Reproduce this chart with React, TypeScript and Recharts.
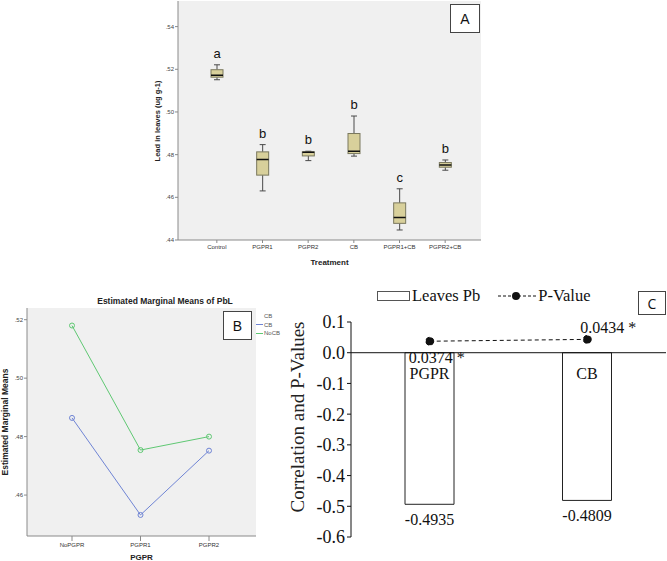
import React from 'react';
import {
  ComposedChart,
  LineChart,
  Bar,
  Line,
  XAxis,
  YAxis,
  CartesianGrid,
  LabelList,
  Legend,
  ReferenceLine,
} from 'recharts';

// Panel A: boxplots of lead in leaves by treatment
const treatments = ['Control', 'PGPR1', 'PGPR2', 'CB', 'PGPR1+CB', 'PGPR2+CB'];
const leafMin = [0.5151, 0.463, 0.4772, 0.4793, 0.4447, 0.4727];
const leafQ1 = [0.5163, 0.4704, 0.4794, 0.4805, 0.4478, 0.4741];
const leafMedian = [0.5172, 0.4777, 0.4811, 0.4816, 0.4506, 0.4752];
const leafQ3 = [0.5198, 0.4813, 0.4813, 0.4899, 0.4574, 0.4763];
const leafMax = [0.5221, 0.4847, 0.4816, 0.4981, 0.464, 0.4775];
const groupLetters = ['a', 'b', 'b', 'b', 'c', 'b'];
const leafTicks = [0.44, 0.46, 0.48, 0.5, 0.52, 0.54];

// Panel B: estimated marginal means
const pgprLevels = ['NoPGPR', 'PGPR1', 'PGPR2'];
const meansCB = [0.4864, 0.4532, 0.4752];
const meansNoCB = [0.518, 0.4754, 0.48];
const meanTicks = [0.46, 0.48, 0.5, 0.52];

// Panel C: correlation and p-values
const corrFactors = ['PGPR', 'CB'];
const corrLeavesPb = [-0.4935, -0.4809];
const pValues = [0.0374, 0.0434];
const corrTicks = [-0.6, -0.5, -0.4, -0.3, -0.2, -0.1, 0, 0.1];

const SANS = '"Liberation Sans", Arial, sans-serif';
const SERIF = '"Liberation Serif", "Times New Roman", serif';
const FRAME = '#8a8a8a';

const boxRows = treatments.map((name, i) => ({
  name,
  min: leafMin[i],
  q1: leafQ1[i],
  median: leafMedian[i],
  q3: leafQ3[i],
  max: leafMax[i],
  letter: groupLetters[i],
}));

const meanRows = pgprLevels.map((level, i) => ({ level, cb: meansCB[i], nocb: meansNoCB[i] }));

const corrRows = corrFactors.map((factor, i) => ({ factor, leaves: corrLeavesPb[i], p: pValues[i] }));

const dotFmt = (v: number) => v.toFixed(2).replace(/^0/, '');

function BoxShape(props: any) {
  const { x, y, width, height, payload } = props;
  const span = payload.max - payload.min;
  const py = (v: number) => y + ((payload.max - v) / span) * height;
  const cx = x + width / 2;
  const cap = 3;
  return (
    <g>
      <line x1={cx} x2={cx} y1={py(payload.max)} y2={py(payload.q3)} stroke="#4a4a4a" />
      <line x1={cx} x2={cx} y1={py(payload.q1)} y2={py(payload.min)} stroke="#4a4a4a" />
      <line x1={cx - cap} x2={cx + cap} y1={py(payload.max)} y2={py(payload.max)} stroke="#4a4a4a" />
      <line x1={cx - cap} x2={cx + cap} y1={py(payload.min)} y2={py(payload.min)} stroke="#4a4a4a" />
      <rect
        x={x}
        y={py(payload.q3)}
        width={width}
        height={Math.max(py(payload.q1) - py(payload.q3), 1)}
        fill="#d8d09b"
        stroke="#7a785e"
      />
      <line x1={x} x2={x + width} y1={py(payload.median)} y2={py(payload.median)} stroke="#111" strokeWidth={1.5} />
    </g>
  );
}

const box = (p: any) => p.viewBox && p.viewBox.width !== undefined ? p.viewBox : p;

function FactorLabel(props: any) {
  const { x, y, width, height } = box(props);
  const top = Math.min(y, y + height);
  return (
    <text x={x + width / 2} y={top + 26} textAnchor="middle" fontFamily={SERIF} fontSize={16} fill="#111">
      {props.value}
    </text>
  );
}

function CorrValueLabel(props: any) {
  const { x, y, width, height } = box(props);
  const bottom = Math.max(y, y + height);
  return (
    <text x={x + width / 2} y={bottom + 21} textAnchor="middle" fontFamily={SERIF} fontSize={16} fill="#111">
      {props.value.toFixed(4)}
    </text>
  );
}

function PValueLabel(props: any) {
  const vb = props.viewBox || props;
  const x = vb.x ?? props.x;
  const y = vb.y ?? props.y;
  const below = props.index === 0;
  return (
    <text
      x={x + (below ? -21 : -7)}
      y={y + (below ? 22 : -6)}
      textAnchor="start"
      fontFamily={SERIF}
      fontSize={16}
      fill="#111"
    >
      {props.value.toFixed(4)} *
    </text>
  );
}

function CBLegend(props: any) {
  const items = props.payload || [];
  return (
    <div style={{ fontFamily: SANS, fontSize: 6, color: '#555', lineHeight: '8.5px' }}>
      <div style={{ marginLeft: 8 }}>CB</div>
      {items.map((it: any) => (
        <div key={it.value} style={{ display: 'flex', alignItems: 'center' }}>
          <span style={{ width: 7, height: 1, background: it.color, marginRight: 1, display: 'inline-block' }} />
          {it.value}
        </div>
      ))}
    </div>
  );
}

function CorrLegend() {
  return (
    <div style={{ display: 'flex', alignItems: 'center', fontFamily: SERIF, fontSize: 16.5, color: '#111', whiteSpace: 'nowrap' }}>
      <span style={{ width: 33, height: 10, border: '1px solid #555', boxSizing: 'border-box', display: 'inline-block', background: '#fff' }} />
      <span style={{ marginLeft: 2 }}>Leaves Pb</span>
      <svg width={38} height={10} style={{ marginLeft: 18 }}>
        <line x1={0} x2={38} y1={5} y2={5} stroke="#111" strokeDasharray="3 2" />
        <circle cx={18} cy={5} r={4} fill="#111" />
      </svg>
      <span style={{ marginLeft: 2 }}>P-Value</span>
    </div>
  );
}

const tag = (text: string, left: number, top: number, w: number, h: number, font: string, size: number) => (
  <div
    style={{
      position: 'absolute',
      left,
      top,
      width: w,
      height: h,
      border: '1px solid #444',
      boxSizing: 'border-box',
      background: '#fff',
      fontFamily: font,
      fontSize: size,
      display: 'flex',
      alignItems: 'center',
      justifyContent: 'center',
      color: '#111',
    }}
  >
    {text}
  </div>
);

const vTitle = (text: string, cx: number, cy: number, style: React.CSSProperties) => (
  <div
    style={{
      position: 'absolute',
      left: cx,
      top: cy,
      transform: 'translate(-50%, -50%) rotate(-90deg)',
      whiteSpace: 'nowrap',
      ...style,
    }}
  >
    {text}
  </div>
);

export default function App() {
  return (
    <div style={{ position: 'absolute', left: 0, top: 0, width: 667, height: 561, background: '#fff', overflow: 'hidden' }}>
      {/* Panel A */}
      <div style={{ position: 'absolute', left: 100, top: 0 }}>
        <ComposedChart width={400} height={268} data={boxRows} margin={{ top: 1, right: 19, left: 0, bottom: 0 }}>
          <CartesianGrid horizontal={false} vertical={false} fill="#f0f0f0" />
          <XAxis
            dataKey="name"
            padding={{ left: 16, right: 13 }}
            interval={0}
            height={28}
            tick={{ fontSize: 6, fill: '#333', fontFamily: SANS }}
            tickSize={3}
            tickMargin={2}
            axisLine={{ stroke: FRAME }}
            tickLine={{ stroke: FRAME }}
            label={{ value: 'Treatment', position: 'insideBottom', offset: 3, fontSize: 8, fontWeight: 700, fill: '#222', fontFamily: SANS }}
          />
          <XAxis xAxisId="top" orientation="top" dataKey="name" height={0} tick={false} tickLine={false} axisLine={{ stroke: FRAME }} />
          <YAxis
            width={78}
            domain={[0.44, 0.552]}
            ticks={leafTicks}
            tickFormatter={dotFmt}
            allowDataOverflow
            tick={{ fontSize: 6, fill: '#444', fontFamily: SANS }}
            tickSize={3}
            tickMargin={1}
            axisLine={{ stroke: FRAME }}
            tickLine={{ stroke: FRAME }}
          />
          <YAxis yAxisId="right" orientation="right" width={0} tick={false} tickLine={false} axisLine={{ stroke: FRAME }} />
          <Bar
            dataKey={(d: any) => [d.min, d.max]}
            barSize={12}
            shape={(p: any) => <BoxShape {...p} />}
            isAnimationActive={false}
          >
            <LabelList dataKey="letter" position="top" offset={7} fontSize={13} fill="#111" fontFamily={SANS} />
          </Bar>
        </ComposedChart>
      </div>
      {vTitle('Lead in leaves (ug g-1)', 157, 121, { fontFamily: SANS, fontSize: 7.5, fontWeight: 700, color: '#222' })}
      {tag('A', 450, 4, 30, 29, SANS, 14)}

      {/* Panel B */}
      <div
        style={{
          position: 'absolute',
          left: 30,
          top: 295,
          width: 270,
          textAlign: 'center',
          fontFamily: SANS,
          fontSize: 8.5,
          fontWeight: 700,
          color: '#222',
          lineHeight: '12px',
        }}
      >
        Estimated Marginal Means of PbL
      </div>
      <div style={{ position: 'absolute', left: 0, top: 295 }}>
        <LineChart width={290} height={266} data={meanRows} margin={{ top: 13, right: 34, left: 0, bottom: 0 }}>
          <CartesianGrid horizontal={false} vertical={false} fill="#f0f0f0" />
          <XAxis
            dataKey="level"
            padding={{ left: 45, right: 47 }}
            height={25}
            interval={0}
            tick={{ fontSize: 6, fill: '#333', fontFamily: SANS }}
            tickSize={5}
            tickMargin={2}
            axisLine={{ stroke: FRAME }}
            tickLine={{ stroke: FRAME }}
            label={{ value: 'PGPR', position: 'insideBottom', offset: 1, fontSize: 8, fontWeight: 700, fill: '#222', fontFamily: SANS }}
          />
          <XAxis xAxisId="top" orientation="top" dataKey="level" height={0} tick={false} tickLine={false} axisLine={{ stroke: FRAME }} />
          <YAxis
            width={27}
            domain={[0.446, 0.524]}
            ticks={meanTicks}
            tickFormatter={dotFmt}
            allowDataOverflow
            tick={{ fontSize: 6, fill: '#444', fontFamily: SANS }}
            tickSize={3}
            tickMargin={1}
            axisLine={{ stroke: FRAME }}
            tickLine={{ stroke: FRAME }}
          />
          <YAxis yAxisId="right" orientation="right" width={0} tick={false} tickLine={false} axisLine={{ stroke: FRAME }} />
          <Legend
            layout="horizontal"
            align="center"
            verticalAlign="middle"
            content={<CBLegend />}
            wrapperStyle={{ position: 'absolute', left: 256, top: 17, width: 40 }}
          />
          <Line
            type="linear"
            dataKey="cb"
            name="CB"
            stroke="#6f84d4"
            strokeWidth={1}
            dot={{ r: 2.5, fill: 'none', stroke: '#6f84d4', strokeWidth: 1 }}
            isAnimationActive={false}
          />
          <Line
            type="linear"
            dataKey="nocb"
            name="NoCB"
            stroke="#5fc873"
            strokeWidth={1}
            dot={{ r: 2.5, fill: 'none', stroke: '#5fc873', strokeWidth: 1 }}
            isAnimationActive={false}
          />
        </LineChart>
      </div>
      {vTitle('Estimated Marginal Means', 5, 422, { fontFamily: SANS, fontSize: 8.5, fontWeight: 700, color: '#222' })}
      {tag('B', 223, 311, 29, 29, SANS, 14)}

      {/* Panel C */}
      <div style={{ position: 'absolute', left: 270, top: 280 }}>
        <ComposedChart width={397} height={281} data={corrRows} margin={{ top: 42, right: 1, left: 0, bottom: 24 }}>
          <XAxis dataKey="factor" hide />
          <YAxis
            width={81}
            domain={[-0.6, 0.1]}
            ticks={corrTicks}
            tickFormatter={(v: number) => v.toFixed(1)}
            tick={{ fontSize: 18, fill: '#111', fontFamily: SERIF }}
            tickSize={4}
            tickMargin={2}
            axisLine={{ stroke: '#111' }}
            tickLine={{ stroke: '#111' }}
          />
          <Legend
            layout="horizontal"
            align="center"
            verticalAlign="middle"
            content={<CorrLegend />}
            wrapperStyle={{ position: 'absolute', left: 107, top: 6, width: 240 }}
          />
          <ReferenceLine y={0} stroke="#111" strokeWidth={1} />
          <Bar dataKey="leaves" fill="#fff" stroke="#222" strokeWidth={1} barSize={49} isAnimationActive={false}>
            <LabelList dataKey="factor" content={<FactorLabel />} />
            <LabelList dataKey="leaves" content={<CorrValueLabel />} />
          </Bar>
          <Line
            type="linear"
            dataKey="p"
            stroke="#111"
            strokeWidth={1}
            strokeDasharray="4 3"
            dot={{ r: 4, fill: '#111', stroke: '#111' }}
            isAnimationActive={false}
          >
            <LabelList dataKey="p" content={<PValueLabel />} />
          </Line>
        </ComposedChart>
      </div>
      {vTitle('Correlation and P-Values', 298, 417, { fontFamily: SERIF, fontSize: 19, color: '#222' })}
      {tag('C', 638, 291, 28, 24, '"Open Sans", sans-serif', 14)}
    </div>
  );
}
